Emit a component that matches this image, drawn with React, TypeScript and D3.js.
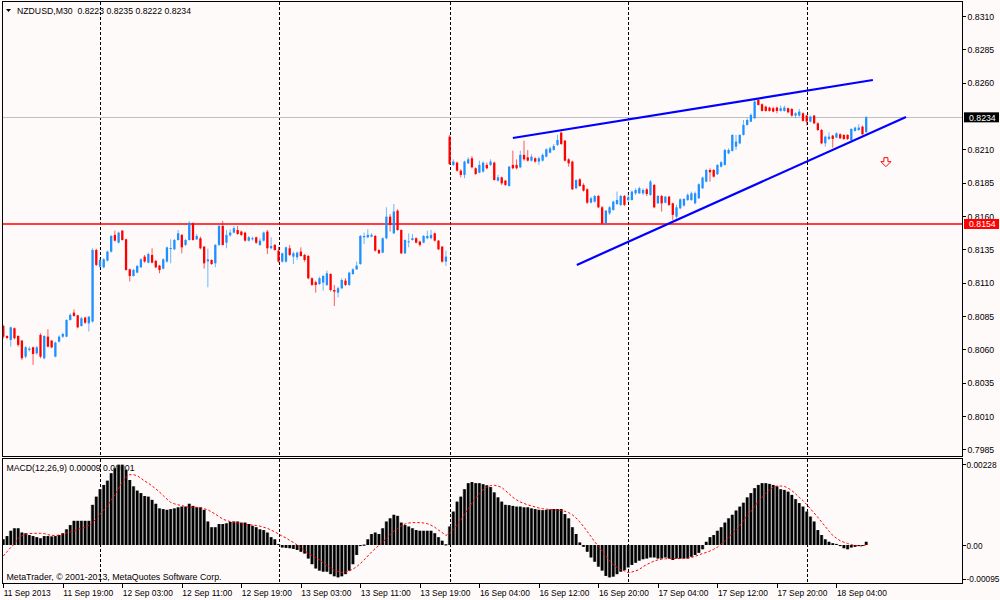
import { useEffect, useRef } from 'react';
import * as d3 from 'd3';

// NZDUSD M30, one entry per bar: 11 Sep 2013 11:00 ... 18 Sep 2013 08:00
const opens: number[] = [
  0.80775, 0.80700, 0.80670, 0.80758, 0.80700, 0.80665, 0.80545, 0.80595, 0.80615, 0.80570,
  0.80708, 0.80533, 0.80695, 0.80665, 0.80545, 0.80658, 0.80695, 0.80695, 0.80820, 0.80875,
  0.80855, 0.80775, 0.80838, 0.80795, 0.80808, 0.81345, 0.81220, 0.81215, 0.81265, 0.81333,
  0.81458, 0.81400, 0.81490, 0.81425, 0.81200, 0.81150, 0.81175, 0.81215, 0.81295, 0.81250,
  0.81308, 0.81263, 0.81228, 0.81205, 0.81258, 0.81355, 0.81350, 0.81420, 0.81458, 0.81383,
  0.81420, 0.81545, 0.81425, 0.81433, 0.81370, 0.81260, 0.81270, 0.81245, 0.81383, 0.81525,
  0.81400, 0.81455, 0.81475, 0.81495, 0.81483, 0.81475, 0.81415, 0.81425, 0.81440, 0.81383,
  0.81415, 0.81483, 0.81358, 0.81383, 0.81340, 0.81258, 0.81258, 0.81358, 0.81295, 0.81290,
  0.81333, 0.81308, 0.81300, 0.81133, 0.81103, 0.81090, 0.81100, 0.81083, 0.81165, 0.81045,
  0.81025, 0.81058, 0.81115, 0.81083, 0.81165, 0.81200, 0.81240, 0.81440, 0.81440, 0.81445,
  0.81450, 0.81345, 0.81325, 0.81433, 0.81595, 0.81470, 0.81640, 0.81495, 0.81320, 0.81405,
  0.81420, 0.81433, 0.81408, 0.81400, 0.81433, 0.81433, 0.81470, 0.81415, 0.81370, 0.81258,
  0.82195, 0.81983, 0.82000, 0.81940, 0.81908, 0.81995, 0.82033, 0.81958, 0.81925, 0.81933,
  0.81983, 0.81983, 0.82000, 0.81865, 0.81890, 0.81865, 0.81825, 0.81983, 0.81983, 0.81965,
  0.82058, 0.82040, 0.82015, 0.82033, 0.82008, 0.82015, 0.82045, 0.82075, 0.82095, 0.82133,
  0.82225, 0.82165, 0.82025, 0.82008, 0.81808, 0.81875, 0.81833, 0.81800, 0.81700, 0.81708,
  0.81750, 0.81665, 0.81545, 0.81620, 0.81645, 0.81690, 0.81683, 0.81750, 0.81720, 0.81720,
  0.81770, 0.81770, 0.81770, 0.81800, 0.81758, 0.81833, 0.81695, 0.81750, 0.81700, 0.81745,
  0.81695, 0.81595, 0.81658, 0.81678, 0.81720, 0.81720, 0.81695, 0.81733, 0.81808, 0.81858,
  0.81945, 0.81945, 0.81913, 0.81970, 0.81983, 0.82070, 0.82088, 0.82120, 0.82145, 0.82208,
  0.82283, 0.82308, 0.82333, 0.82470, 0.82438, 0.82420, 0.82413, 0.82408, 0.82413, 0.82388,
  0.82388, 0.82408, 0.82403, 0.82353, 0.82353, 0.82370, 0.82353, 0.82308, 0.82353, 0.82295,
  0.82245, 0.82145, 0.82178, 0.82203, 0.82188, 0.82213, 0.82208, 0.82208, 0.82170, 0.82238,
  0.82245, 0.82270, 0.82230,
];

const highs: number[] = [
  0.80785, 0.80705, 0.80770, 0.80763, 0.80705, 0.80670, 0.80625, 0.80620, 0.80620, 0.80625,
  0.80720, 0.80705, 0.80750, 0.80670, 0.80658, 0.80705, 0.80725, 0.80825, 0.80870, 0.80900,
  0.80860, 0.80845, 0.80845, 0.80850, 0.81358, 0.81355, 0.81283, 0.81283, 0.81340, 0.81458,
  0.81490, 0.81483, 0.81495, 0.81430, 0.81205, 0.81205, 0.81233, 0.81283, 0.81308, 0.81325,
  0.81358, 0.81270, 0.81233, 0.81283, 0.81370, 0.81425, 0.81428, 0.81495, 0.81465, 0.81428,
  0.81560, 0.81553, 0.81465, 0.81445, 0.81375, 0.81355, 0.81275, 0.81390, 0.81533, 0.81563,
  0.81495, 0.81500, 0.81525, 0.81525, 0.81490, 0.81483, 0.81450, 0.81445, 0.81445, 0.81433,
  0.81483, 0.81495, 0.81440, 0.81390, 0.81370, 0.81325, 0.81370, 0.81383, 0.81333, 0.81333,
  0.81365, 0.81315, 0.81308, 0.81140, 0.81115, 0.81145, 0.81158, 0.81190, 0.81170, 0.81083,
  0.81070, 0.81133, 0.81133, 0.81183, 0.81208, 0.81258, 0.81458, 0.81475, 0.81500, 0.81470,
  0.81458, 0.81350, 0.81440, 0.81665, 0.81615, 0.81690, 0.81650, 0.81500, 0.81425, 0.81470,
  0.81465, 0.81440, 0.81415, 0.81458, 0.81490, 0.81495, 0.81475, 0.81420, 0.81375, 0.81340,
  0.82208, 0.82025, 0.82008, 0.81950, 0.82015, 0.82040, 0.82050, 0.81965, 0.82015, 0.82008,
  0.82000, 0.82025, 0.82008, 0.81908, 0.81895, 0.81870, 0.81975, 0.82090, 0.82025, 0.82090,
  0.82165, 0.82095, 0.82063, 0.82040, 0.82045, 0.82070, 0.82108, 0.82120, 0.82140, 0.82208,
  0.82233, 0.82170, 0.82033, 0.82015, 0.81875, 0.81883, 0.81845, 0.81808, 0.81745, 0.81758,
  0.81758, 0.81675, 0.81645, 0.81675, 0.81715, 0.81783, 0.81758, 0.81758, 0.81770, 0.81790,
  0.81808, 0.81820, 0.81808, 0.81808, 0.81870, 0.81840, 0.81758, 0.81758, 0.81750, 0.81750,
  0.81700, 0.81683, 0.81733, 0.81733, 0.81770, 0.81783, 0.81783, 0.81845, 0.81895, 0.81953,
  0.81958, 0.81953, 0.81988, 0.82013, 0.82103, 0.82108, 0.82213, 0.82208, 0.82213, 0.82320,
  0.82333, 0.82370, 0.82470, 0.82478, 0.82445, 0.82428, 0.82420, 0.82420, 0.82420, 0.82428,
  0.82428, 0.82413, 0.82408, 0.82378, 0.82403, 0.82378, 0.82358, 0.82353, 0.82358, 0.82303,
  0.82253, 0.82203, 0.82228, 0.82208, 0.82228, 0.82220, 0.82213, 0.82213, 0.82258, 0.82270,
  0.82288, 0.82278, 0.82350,
];

const lows: number[] = [
  0.80680, 0.80675, 0.80620, 0.80675, 0.80620, 0.80520, 0.80533, 0.80583, 0.80483, 0.80560,
  0.80533, 0.80525, 0.80615, 0.80608, 0.80540, 0.80650, 0.80685, 0.80690, 0.80815, 0.80845,
  0.80758, 0.80770, 0.80790, 0.80733, 0.80800, 0.81225, 0.81208, 0.81208, 0.81258, 0.81325,
  0.81408, 0.81395, 0.81415, 0.81190, 0.81108, 0.81145, 0.81170, 0.81210, 0.81250, 0.81245,
  0.81245, 0.81208, 0.81170, 0.81200, 0.81250, 0.81245, 0.81345, 0.81415, 0.81320, 0.81375,
  0.81415, 0.81415, 0.81420, 0.81350, 0.81205, 0.81065, 0.81233, 0.81215, 0.81375, 0.81378,
  0.81358, 0.81445, 0.81470, 0.81458, 0.81450, 0.81408, 0.81408, 0.81415, 0.81390, 0.81375,
  0.81408, 0.81315, 0.81350, 0.81340, 0.81250, 0.81250, 0.81250, 0.81300, 0.81240, 0.81270,
  0.81295, 0.81258, 0.81125, 0.81075, 0.81025, 0.81083, 0.81040, 0.81075, 0.81033, 0.80925,
  0.80990, 0.81050, 0.81075, 0.81075, 0.81158, 0.81195, 0.81233, 0.81390, 0.81433, 0.81440,
  0.81333, 0.81315, 0.81320, 0.81425, 0.81483, 0.81465, 0.81490, 0.81315, 0.81315, 0.81365,
  0.81415, 0.81395, 0.81370, 0.81395, 0.81425, 0.81425, 0.81408, 0.81345, 0.81250, 0.81225,
  0.81983, 0.81975, 0.81933, 0.81890, 0.81883, 0.81990, 0.81958, 0.81908, 0.81920, 0.81925,
  0.81950, 0.81975, 0.81865, 0.81858, 0.81833, 0.81825, 0.81820, 0.81950, 0.81950, 0.81958,
  0.82015, 0.82008, 0.82008, 0.82000, 0.81983, 0.82008, 0.82040, 0.82070, 0.82090, 0.82125,
  0.82133, 0.82008, 0.81970, 0.81795, 0.81800, 0.81820, 0.81783, 0.81690, 0.81695, 0.81700,
  0.81658, 0.81540, 0.81540, 0.81608, 0.81640, 0.81683, 0.81675, 0.81675, 0.81708, 0.81715,
  0.81758, 0.81765, 0.81758, 0.81750, 0.81750, 0.81658, 0.81690, 0.81633, 0.81695, 0.81675,
  0.81570, 0.81580, 0.81650, 0.81670, 0.81713, 0.81713, 0.81688, 0.81728, 0.81803, 0.81853,
  0.81858, 0.81888, 0.81908, 0.81963, 0.81978, 0.82063, 0.82083, 0.82095, 0.82138, 0.82203,
  0.82278, 0.82303, 0.82328, 0.82428, 0.82383, 0.82383, 0.82383, 0.82378, 0.82370, 0.82383,
  0.82383, 0.82370, 0.82345, 0.82333, 0.82345, 0.82308, 0.82278, 0.82303, 0.82288, 0.82238,
  0.82138, 0.82120, 0.82170, 0.82113, 0.82183, 0.82178, 0.82170, 0.82170, 0.82163, 0.82233,
  0.82238, 0.82208, 0.82220,
];

const closes: number[] = [
  0.80695, 0.80685, 0.80765, 0.80683, 0.80633, 0.80533, 0.80615, 0.80605, 0.80565, 0.80615,
  0.80545, 0.80700, 0.80620, 0.80615, 0.80650, 0.80695, 0.80715, 0.80820, 0.80858, 0.80850,
  0.80765, 0.80833, 0.80800, 0.80845, 0.81345, 0.81233, 0.81270, 0.81275, 0.81333, 0.81450,
  0.81415, 0.81475, 0.81420, 0.81195, 0.81150, 0.81195, 0.81225, 0.81275, 0.81258, 0.81315,
  0.81250, 0.81215, 0.81195, 0.81275, 0.81365, 0.81360, 0.81420, 0.81470, 0.81365, 0.81420,
  0.81550, 0.81420, 0.81450, 0.81358, 0.81245, 0.81275, 0.81240, 0.81383, 0.81525, 0.81383,
  0.81458, 0.81475, 0.81508, 0.81465, 0.81458, 0.81415, 0.81440, 0.81433, 0.81400, 0.81415,
  0.81475, 0.81358, 0.81375, 0.81345, 0.81258, 0.81320, 0.81365, 0.81308, 0.81320, 0.81325,
  0.81300, 0.81270, 0.81133, 0.81083, 0.81083, 0.81133, 0.81150, 0.81170, 0.81045, 0.81033,
  0.81058, 0.81120, 0.81083, 0.81175, 0.81200, 0.81228, 0.81450, 0.81450, 0.81458, 0.81458,
  0.81340, 0.81320, 0.81433, 0.81595, 0.81533, 0.81633, 0.81495, 0.81320, 0.81420, 0.81410,
  0.81433, 0.81400, 0.81383, 0.81450, 0.81450, 0.81458, 0.81415, 0.81350, 0.81258, 0.81295,
  0.81990, 0.82008, 0.81940, 0.81908, 0.82008, 0.82025, 0.81965, 0.81915, 0.81983, 0.82000,
  0.81958, 0.82008, 0.81870, 0.81890, 0.81845, 0.81833, 0.81970, 0.81958, 0.81958, 0.82058,
  0.82025, 0.82015, 0.82045, 0.82008, 0.82033, 0.82058, 0.82100, 0.82108, 0.82125, 0.82170,
  0.82140, 0.82015, 0.81995, 0.81800, 0.81870, 0.81825, 0.81790, 0.81700, 0.81733, 0.81750,
  0.81665, 0.81545, 0.81640, 0.81665, 0.81708, 0.81720, 0.81750, 0.81683, 0.81740, 0.81783,
  0.81795, 0.81808, 0.81795, 0.81765, 0.81858, 0.81665, 0.81750, 0.81695, 0.81745, 0.81683,
  0.81608, 0.81665, 0.81725, 0.81728, 0.81758, 0.81770, 0.81770, 0.81838, 0.81888, 0.81945,
  0.81928, 0.81895, 0.81983, 0.82003, 0.82095, 0.82095, 0.82208, 0.82158, 0.82208, 0.82283,
  0.82320, 0.82358, 0.82458, 0.82433, 0.82388, 0.82388, 0.82388, 0.82383, 0.82388, 0.82408,
  0.82413, 0.82378, 0.82353, 0.82370, 0.82383, 0.82313, 0.82308, 0.82345, 0.82295, 0.82245,
  0.82145, 0.82195, 0.82195, 0.82178, 0.82220, 0.82183, 0.82178, 0.82178, 0.82253, 0.82263,
  0.82263, 0.82213, 0.82340,
];

// MACD(12,26,9) per bar, in points of 0.00001
const MACD_POINT = 0.00001;
const macdMain: number[] = [
  16, 25, 40, 47, 47, 35, 33, 28, 25, 22,
  19, 25, 25, 24, 25, 28, 33, 44, 56, 68,
  68, 68, 68, 68, 113, 136, 157, 169, 181, 202,
  216, 226, 226, 212, 183, 165, 153, 146, 138, 136,
  127, 116, 103, 101, 99, 101, 103, 106, 108, 108,
  116, 110, 106, 106, 99, 66, 50, 50, 59, 59,
  61, 65, 66, 66, 63, 63, 59, 54, 50, 44,
  42, 35, 22, 16, 3, -7, -8, -9, -11, -14,
  -19, -24, -38, -54, -66, -72, -75, -75, -82, -88,
  -91, -88, -82, -72, -54, -28, -3, 1, 16, 31,
  35, 31, 47, 66, 75, 85, 82, 63, 56, 52,
  47, 42, 40, 40, 40, 40, 33, 22, 12, 2,
  52, 94, 122, 136, 157, 174, 177, 174, 174, 171,
  168, 163, 148, 134, 122, 113, 112, 110, 108, 108,
  106, 106, 103, 101, 99, 98, 99, 100, 101, 101,
  101, 87, 75, 50, 31, 7, -5, -19, -35, -47,
  -61, -72, -87, -91, -89, -82, -75, -71, -63, -56,
  -50, -44, -40, -38, -35, -35, -38, -38, -35, -38,
  -42, -38, -38, -38, -38, -33, -28, -22, -12, 9,
  22, 28, 40, 50, 63, 75, 85, 97, 108, 119,
  134, 146, 160, 169, 174, 174, 172, 169, 165, 157,
  155, 150, 141, 129, 118, 108, 94, 80, 66, 42,
  28, 16, 9, 5, 3, -3, -9, -12, -7, -5,
  -3, -2, 9,
];

const macdSignal: number[] = [
  -31, -19, -7, 3, 19, 26, 30, 32, 33, 33,
  33, 32, 29, 27, 27, 28, 31, 34, 37, 39,
  44, 47, 50, 55, 63, 74, 87, 99, 110, 127,
  141, 160, 176, 191, 198, 198, 195, 188, 180, 174,
  166, 158, 149, 139, 129, 120, 116, 113, 111, 108,
  106, 106, 106, 105, 102, 99, 93, 87, 80, 73,
  69, 66, 64, 62, 60, 59, 57, 56, 55, 53,
  50, 47, 42, 37, 31, 25, 20, 13, 7, 0,
  -8, -16, -24, -29, -35, -42, -50, -57, -65, -71,
  -74, -77, -76, -73, -68, -61, -52, -42, -31, -20,
  -10, -1, 8, 18, 29, 39, 46, 54, 59, 62,
  63, 63, 63, 62, 60, 56, 50, 42, 35, 27,
  33, 44, 56, 71, 87, 102, 118, 132, 144, 155,
  163, 167, 168, 166, 162, 153, 144, 134, 127, 121,
  117, 113, 110, 107, 104, 102, 101, 100, 99, 98,
  97, 95, 91, 85, 76, 65, 52, 38, 24, 9,
  -3, -17, -31, -44, -56, -63, -69, -73, -78, -76,
  -73, -69, -61, -55, -50, -45, -42, -40, -39, -38,
  -38, -38, -38, -38, -37, -35, -32, -28, -24, -21,
  -17, -12, -6, 3, 11, 22, 33, 42, 55, 69,
  82, 95, 109, 122, 134, 146, 155, 163, 166, 166,
  165, 160, 153, 144, 134, 125, 114, 102, 90, 78,
  65, 52, 39, 27, 19, 12, 8, 4, 1, -1,
  -2, -3, 1,
];

const priceTicks = [0.8310, 0.8285, 0.8260, 0.8210, 0.8185, 0.8160, 0.8135, 0.8110, 0.8085, 0.8060, 0.8035, 0.8010, 0.7985];
const macdTicks = [0.00228, 0, -0.00095];
const macdTickLabels = ['0.00228', '0.00', '-0.00095'];

const timeLabelBars = [0, 16, 32, 48, 64, 80, 96, 112, 128, 144, 160, 176, 192, 208, 224];
const timeLabels = [
  '11 Sep 2013', '11 Sep 19:00', '12 Sep 03:00', '12 Sep 11:00', '12 Sep 19:00',
  '13 Sep 03:00', '13 Sep 11:00', '13 Sep 19:00', '16 Sep 04:00', '16 Sep 12:00',
  '16 Sep 20:00', '17 Sep 04:00', '17 Sep 12:00', '17 Sep 20:00', '18 Sep 04:00',
];
// day separators (bar index of 00:00)
const separatorBars = [26, 74, 120, 168, 216];

const bidPrice = 0.8234;
const levelPrice = 0.8154;
// trend lines: [bar, price] end points
const trendLines: [number, number][][] = [
  [[137.0, 0.82185], [233.8, 0.8262]],
  [[154.2, 0.81233], [242.7, 0.82343]],
];
const arrowBar = 237.3;
const arrowPrice = 0.8197;

const FONT = '"Liberation Sans", Arial, sans-serif';
const BG = '#FFFAFA';
const BULL = '#1E90FF';
const BEAR = '#FF0000';

const PANE_L = 2.5;
const PANE_R = 962.5;
const MAIN_T = 1.5;
const MAIN_B = 456.5;
const SUB_T = 458.5;
const SUB_B = 583.5;

export default function App() {
  const svgRef = useRef<SVGSVGElement>(null);

  useEffect(() => {
    if (!svgRef.current) return;
    const svg = d3.select(svgRef.current);
    svg.selectAll('*').remove();

    const n = closes.length;
    const x = d3.scaleLinear().domain([0, n - 1]).range([3.3, 866.2]);
    const y = d3.scaleLinear().domain([0.7985, 0.8310]).range([449.3, 16]);
    const ym = d3.scaleLinear().domain([-0.00095, 0.00228]).range([578.75, 464]);
    const idx = d3.range(n);

    svg.append('rect').attr('width', 1000).attr('height', 600).attr('fill', BG);

    const defs = svg.append('defs');
    defs.append('clipPath').attr('id', 'mainClip').append('rect')
      .attr('x', PANE_L).attr('y', MAIN_T).attr('width', PANE_R - PANE_L).attr('height', MAIN_B - MAIN_T);
    defs.append('clipPath').attr('id', 'subClip').append('rect')
      .attr('x', PANE_L).attr('y', SUB_T).attr('width', PANE_R - PANE_L).attr('height', SUB_B - SUB_T);

    // titles
    svg.append('path').attr('d', 'M6,9 L11,9 L8.5,12 Z').attr('fill', '#000');
    svg.append('text')
      .attr('x', 17).attr('y', 13.5)
      .attr('font-family', FONT).attr('font-size', 9.5).attr('fill', '#000')
      .attr('textLength', 174).attr('lengthAdjust', 'spacingAndGlyphs')
      .attr('xml:space', 'preserve')
      .text('NZDUSD,M30  0.8223 0.8235 0.8222 0.8234');
    svg.append('text')
      .attr('x', 6.5).attr('y', 470.5)
      .attr('font-family', FONT).attr('font-size', 9.5).attr('fill', '#000')
      .attr('textLength', 128).attr('lengthAdjust', 'spacingAndGlyphs')
      .text('MACD(12,26,9) 0.00009 0.00001');
    svg.append('text')
      .attr('x', 6.5).attr('y', 580)
      .attr('font-family', FONT).attr('font-size', 9.5).attr('fill', '#000')
      .attr('textLength', 215).attr('lengthAdjust', 'spacingAndGlyphs')
      .text('MetaTrader, © 2001-2013, MetaQuotes Software Corp.');

    // day separators
    const sep = svg.append('g').attr('stroke', '#000').attr('stroke-dasharray', '3,2').attr('shape-rendering', 'crispEdges');
    [[MAIN_T, MAIN_B], [SUB_T, SUB_B]].forEach(([t, b]) => {
      sep.selectAll(null)
        .data(separatorBars)
        .join('line')
        .attr('x1', d => Math.round(x(d)) + 0.5).attr('x2', d => Math.round(x(d)) + 0.5)
        .attr('y1', t).attr('y2', b);
    });

    const main = svg.append('g').attr('clip-path', 'url(#mainClip)');

    // bid line and horizontal level
    main.append('line')
      .attr('x1', PANE_L).attr('x2', PANE_R)
      .attr('y1', Math.round(y(bidPrice)) + 0.5).attr('y2', Math.round(y(bidPrice)) + 0.5)
      .attr('stroke', '#C0C0C0').attr('shape-rendering', 'crispEdges');
    main.append('line')
      .attr('x1', PANE_L).attr('x2', PANE_R)
      .attr('y1', y(levelPrice)).attr('y2', y(levelPrice))
      .attr('stroke', '#FF0000').attr('stroke-width', 1.5);

    // candles
    const color = (i: number) => (closes[i] >= opens[i] ? BULL : BEAR);
    main.append('g').selectAll('line')
      .data(idx)
      .join('line')
      .attr('x1', i => x(i)).attr('x2', i => x(i))
      .attr('y1', i => y(highs[i])).attr('y2', i => y(lows[i]))
      .attr('stroke', color).attr('stroke-width', 1).attr('stroke-opacity', 0.65);
    main.append('g').selectAll('rect')
      .data(idx)
      .join('rect')
      .attr('x', i => x(i) - 1.15)
      .attr('width', 2.3)
      .attr('y', i => y(Math.max(opens[i], closes[i])))
      .attr('height', i => Math.max(1, Math.abs(y(opens[i]) - y(closes[i]))))
      .attr('fill', color);

    // trend lines
    main.append('g').selectAll('line')
      .data(trendLines)
      .join('line')
      .attr('x1', d => x(d[0][0])).attr('y1', d => y(d[0][1]))
      .attr('x2', d => x(d[1][0])).attr('y2', d => y(d[1][1]))
      .attr('stroke', '#0000FF').attr('stroke-width', 2.2);

    // sell arrow
    const ax = x(arrowBar);
    const ay = y(arrowPrice);
    main.append('path')
      .attr('d', `M${ax - 2},${ay - 9} h4 v4 h3 l-5,5 l-5,-5 h3 Z`)
      .attr('fill', '#FFFFFF').attr('stroke', '#FF0000').attr('stroke-width', 1);

    // MACD pane
    const sub = svg.append('g').attr('clip-path', 'url(#subClip)');
    const y0 = ym(0);
    sub.append('g').selectAll('rect')
      .data(idx)
      .join('rect')
      .attr('x', i => x(i) - 1.86)
      .attr('width', 3.72)
      .attr('y', i => Math.min(y0, ym(macdMain[i] * MACD_POINT)))
      .attr('height', i => Math.max(1, Math.abs(ym(macdMain[i] * MACD_POINT) - y0)))
      .attr('fill', '#A0A0A0');
    sub.append('g').selectAll('rect')
      .data(idx)
      .join('rect')
      .attr('x', i => x(i) - 1.2)
      .attr('width', 2.4)
      .attr('y', i => Math.min(y0, ym(macdMain[i] * MACD_POINT)))
      .attr('height', i => Math.max(1, Math.abs(ym(macdMain[i] * MACD_POINT) - y0)))
      .attr('fill', '#000');
    const signalLine = d3.line<number>()
      .x(i => x(i))
      .y(i => ym(macdSignal[i] * MACD_POINT));
    sub.append('path')
      .datum(idx)
      .attr('d', signalLine)
      .attr('fill', 'none')
      .attr('stroke', '#FF0000')
      .attr('stroke-width', 1)
      .attr('stroke-dasharray', '2.5,2');

    // frames
    svg.append('g').attr('fill', 'none').attr('stroke', '#000').attr('shape-rendering', 'crispEdges')
      .selectAll('rect')
      .data([[MAIN_T, MAIN_B], [SUB_T, SUB_B]])
      .join('rect')
      .attr('x', PANE_L).attr('width', PANE_R - PANE_L)
      .attr('y', d => d[0]).attr('height', d => d[1] - d[0]);

    const styleAxis = (g: d3.Selection<SVGGElement, unknown, null, undefined>) => {
      g.select('.domain').remove();
      g.selectAll('line').attr('stroke', '#000').attr('shape-rendering', 'crispEdges');
      g.selectAll('text').attr('font-family', FONT).attr('font-size', 9.5).attr('fill', '#000');
    };

    // price axis
    svg.append('g')
      .attr('transform', `translate(${PANE_R},0)`)
      .call(d3.axisRight(y).tickValues(priceTicks).tickSize(3).tickPadding(2).tickFormat(d3.format('.4f')))
      .call(styleAxis)
      .selectAll('text').attr('textLength', 26.7).attr('lengthAdjust', 'spacingAndGlyphs');

    // MACD axis
    svg.append('g')
      .attr('transform', `translate(${PANE_R},0)`)
      .call(d3.axisRight(ym).tickValues(macdTicks).tickSize(3).tickPadding(1)
        .tickFormat((_d, i) => macdTickLabels[i]))
      .call(styleAxis)
      .selectAll('text')
      .attr('textLength', (_d, i) => [30, 16, 33][i])
      .attr('lengthAdjust', 'spacingAndGlyphs');

    // time axis
    svg.append('g')
      .attr('transform', `translate(0,${SUB_B})`)
      .call(d3.axisBottom(x).tickValues(timeLabelBars).tickSize(4).tickPadding(2)
        .tickFormat((_d, i) => timeLabels[i]))
      .call(styleAxis)
      .selectAll('text')
      .attr('text-anchor', 'start')
      .attr('textLength', (_d, i) => (i === 0 ? 47 : 50))
      .attr('lengthAdjust', 'spacingAndGlyphs');

    // price markers
    const markers = [
      { price: bidPrice, fill: '#000000' },
      { price: levelPrice, fill: '#FF0000' },
    ];
    const mk = svg.append('g').selectAll('g').data(markers).join('g')
      .attr('transform', d => `translate(${PANE_R + 1.5},${y(d.price)})`);
    mk.append('rect').attr('x', 0).attr('y', -5).attr('width', 35).attr('height', 10).attr('fill', d => d.fill);
    mk.append('text')
      .attr('x', 5).attr('y', 3.3)
      .attr('font-family', FONT).attr('font-size', 9.5).attr('fill', '#FFFFFF')
      .attr('textLength', 26.7).attr('lengthAdjust', 'spacingAndGlyphs')
      .text(d => d3.format('.4f')(d.price));
  }, []);

  return (
    <svg
      ref={svgRef}
      width={1000}
      height={600}
      style={{ position: 'absolute', left: 0, top: 0, display: 'block' }}
    />
  );
}
